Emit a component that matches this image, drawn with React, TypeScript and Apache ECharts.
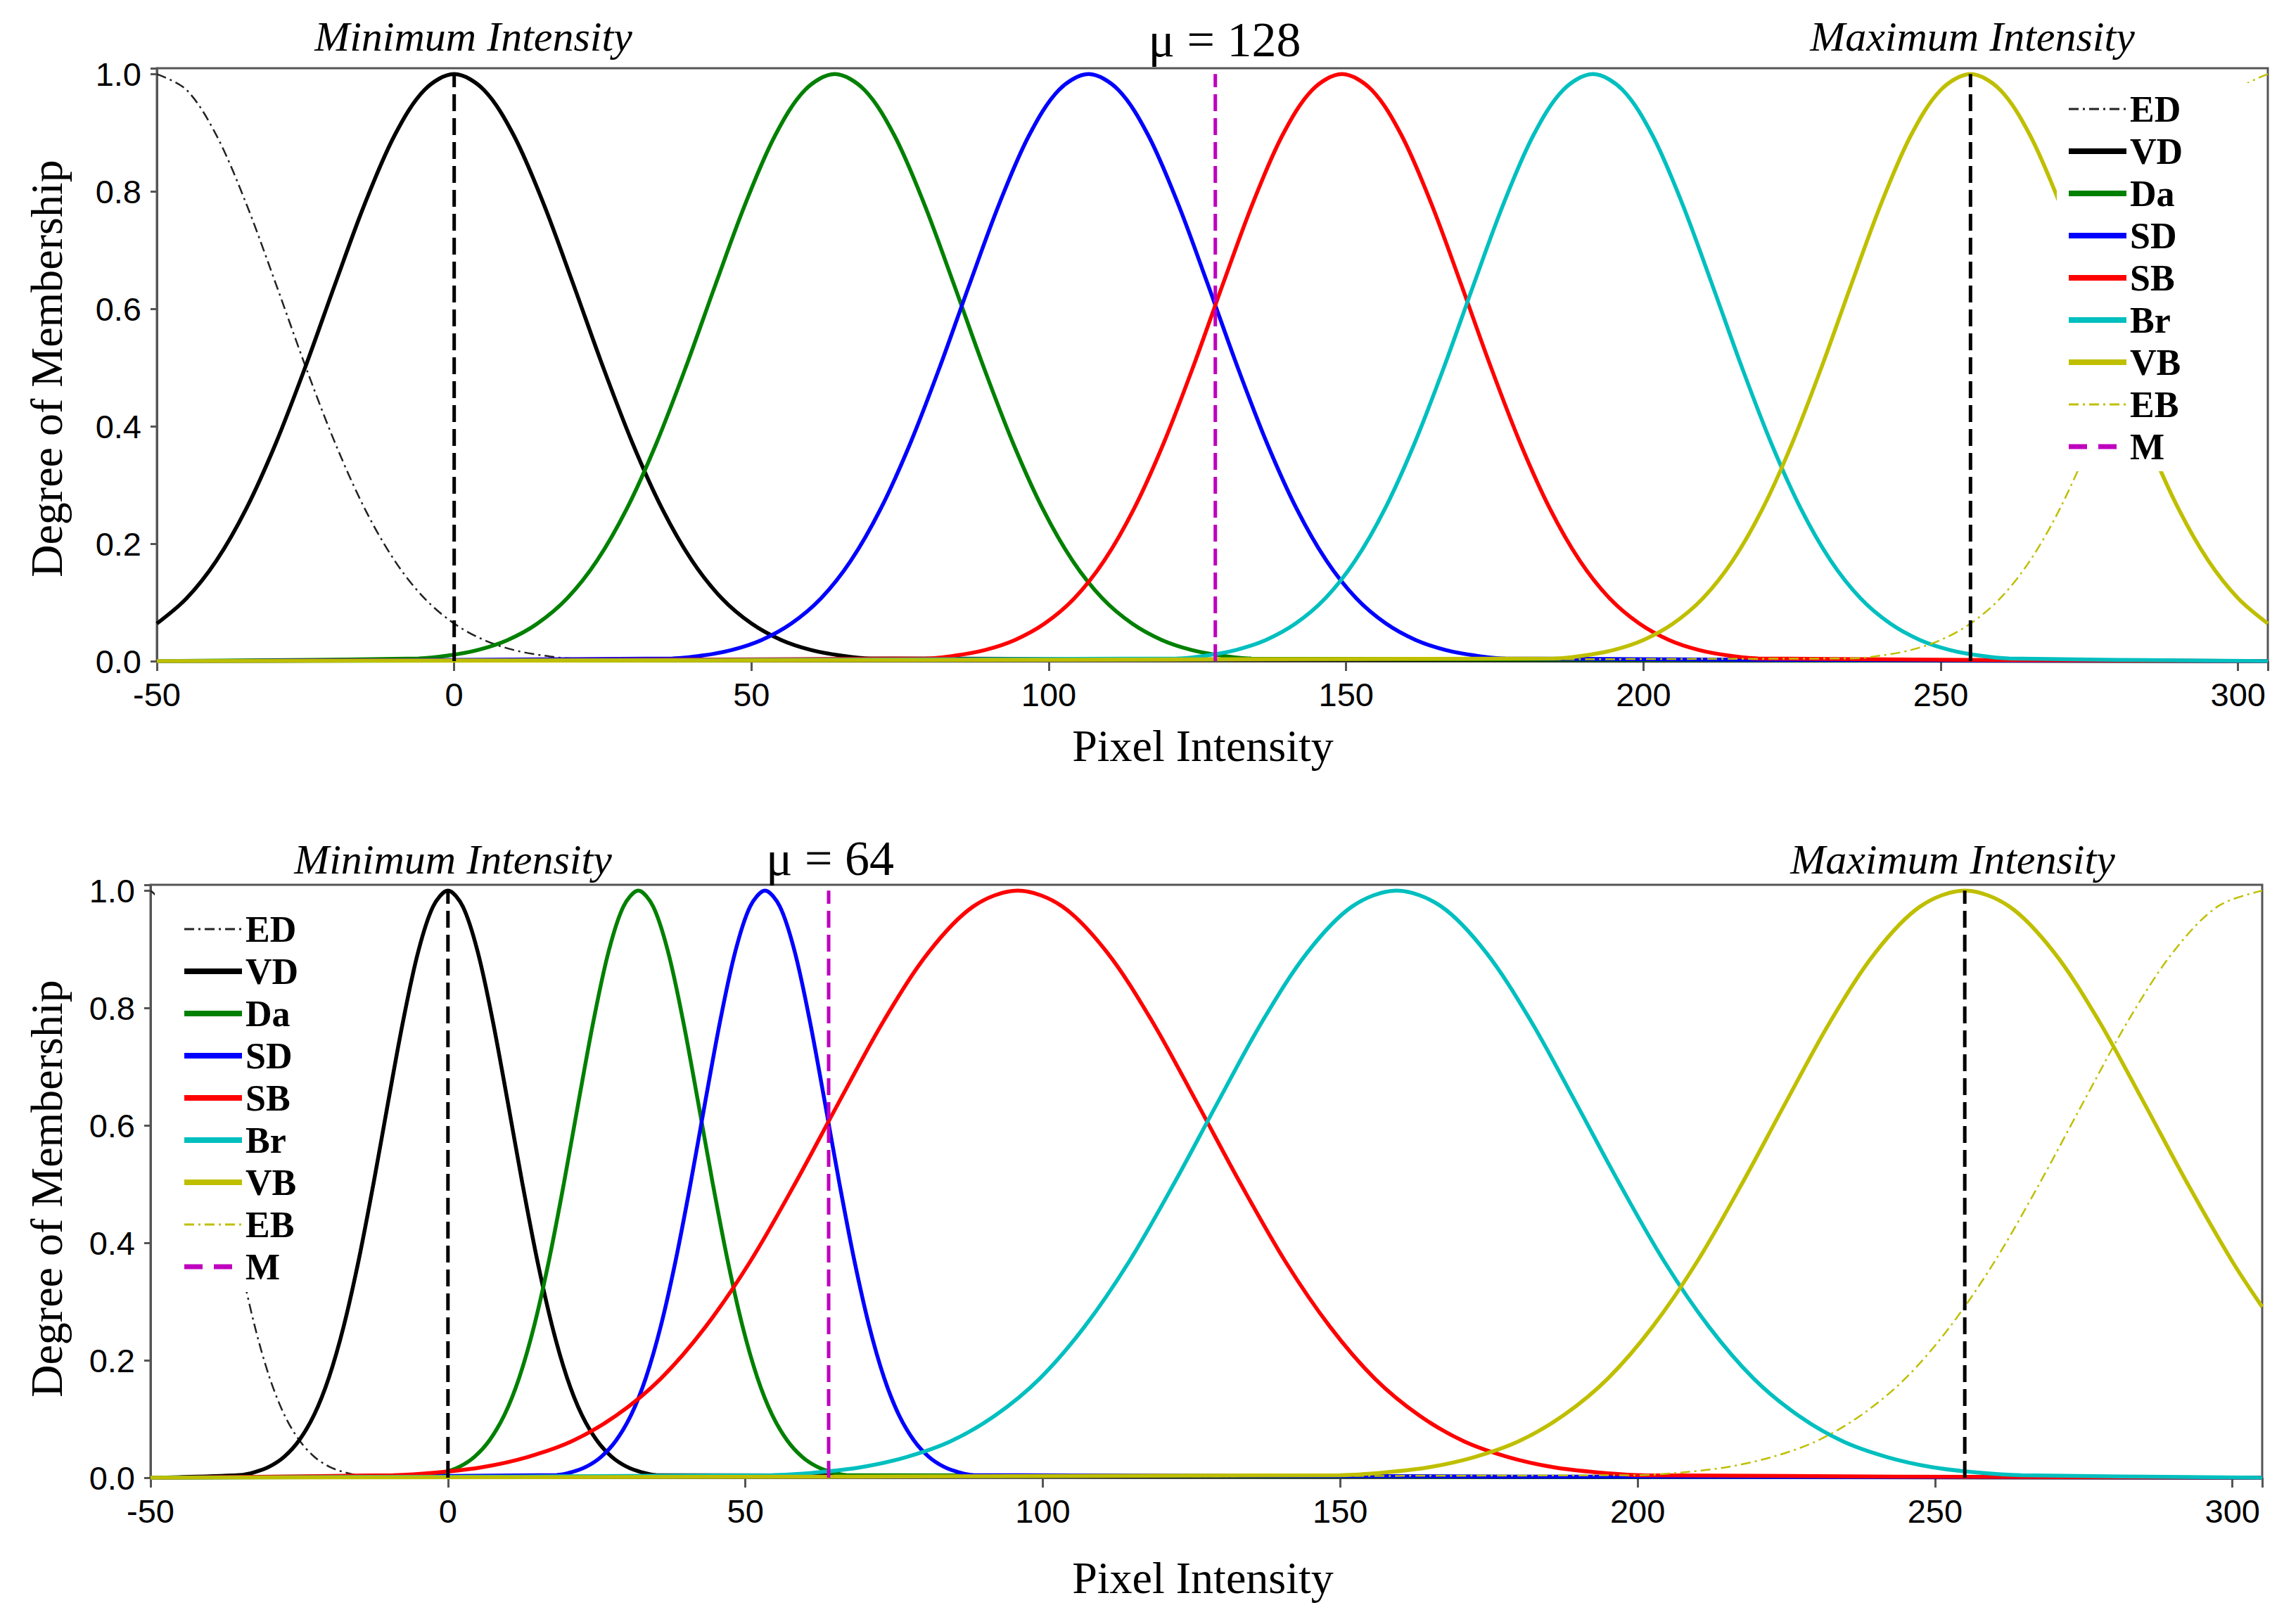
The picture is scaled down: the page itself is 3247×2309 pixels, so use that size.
import React, { useEffect, useRef } from "react";
import * as echarts from "echarts";

// ---------------- DATA ----------------
const legendNames = ["ED", "VD", "Da", "SD", "SB", "Br", "VB", "EB", "M"];

// Top panel (mu = 128)
const meanTop = 128;
const ed128 = [[-50,1],[-45,0.973],[-40,0.896],[-35,0.78],[-30,0.643],[-25,0.502],[-20,0.371],[-15,0.259],[-10,0.171],[-5,0.107],[0,0.064],[5,0.036],[10,0.019],[15,0.0095],[20,0.0045],[305,0]];
const vd128 = [[-50,0.064],[-45,0.107],[-40,0.171],[-35,0.259],[-30,0.371],[-25,0.502],[-20,0.643],[-15,0.78],[-10,0.896],[-5,0.973],[0,1],[5,0.973],[10,0.896],[15,0.78],[20,0.643],[25,0.502],[30,0.371],[35,0.259],[40,0.171],[45,0.107],[50,0.064],[55,0.036],[60,0.019],[65,0.0095],[70,0.0045],[305,0]];
const da128 = [[-50,0],[-6,0.0045],[-1,0.0095],[4,0.019],[9,0.036],[14,0.064],[19,0.107],[24,0.171],[29,0.259],[34,0.371],[39,0.502],[44,0.643],[49,0.78],[54,0.896],[59,0.973],[64,1],[69,0.973],[74,0.896],[79,0.78],[84,0.643],[89,0.502],[94,0.371],[99,0.259],[104,0.171],[109,0.107],[114,0.064],[119,0.036],[124,0.019],[129,0.0095],[134,0.0045],[305,0]];
const sd128 = [[-50,0],[36.7,0.0045],[41.7,0.0095],[46.7,0.019],[51.7,0.036],[56.7,0.064],[61.7,0.107],[66.7,0.171],[71.7,0.259],[76.7,0.371],[81.7,0.502],[86.7,0.643],[91.7,0.78],[96.7,0.896],[101.7,0.973],[106.7,1],[111.7,0.973],[116.7,0.896],[121.7,0.78],[126.7,0.643],[131.7,0.502],[136.7,0.371],[141.7,0.259],[146.7,0.171],[151.7,0.107],[156.7,0.064],[161.7,0.036],[166.7,0.019],[171.7,0.0095],[176.7,0.0045],[305,0]];
const sb128 = [[-50,0],[79.3,0.0045],[84.3,0.0095],[89.3,0.019],[94.3,0.036],[99.3,0.064],[104.3,0.107],[109.3,0.171],[114.3,0.259],[119.3,0.371],[124.3,0.502],[129.3,0.643],[134.3,0.78],[139.3,0.896],[144.3,0.973],[149.3,1],[154.3,0.973],[159.3,0.896],[164.3,0.78],[169.3,0.643],[174.3,0.502],[179.3,0.371],[184.3,0.259],[189.3,0.171],[194.3,0.107],[199.3,0.064],[204.3,0.036],[209.3,0.019],[214.3,0.0095],[219.3,0.0045],[305,0]];
const br128 = [[-50,0],[121.5,0.0045],[126.5,0.0095],[131.5,0.019],[136.5,0.036],[141.5,0.064],[146.5,0.107],[151.5,0.171],[156.5,0.259],[161.5,0.371],[166.5,0.502],[171.5,0.643],[176.5,0.78],[181.5,0.896],[186.5,0.973],[191.5,1],[196.5,0.973],[201.5,0.896],[206.5,0.78],[211.5,0.643],[216.5,0.502],[221.5,0.371],[226.5,0.259],[231.5,0.171],[236.5,0.107],[241.5,0.064],[246.5,0.036],[251.5,0.019],[256.5,0.0095],[261.5,0.0045],[305,0]];
const vb128 = [[-50,0],[185,0.0045],[190,0.0095],[195,0.019],[200,0.036],[205,0.064],[210,0.107],[215,0.171],[220,0.259],[225,0.371],[230,0.502],[235,0.643],[240,0.78],[245,0.896],[250,0.973],[255,1],[260,0.973],[265,0.896],[270,0.78],[275,0.643],[280,0.502],[285,0.371],[290,0.259],[295,0.171],[300,0.107],[305,0.064]];
const eb128 = [[-50,0],[235,0.0045],[240,0.0095],[245,0.019],[250,0.036],[255,0.064],[260,0.107],[265,0.171],[270,0.259],[275,0.371],[280,0.502],[285,0.643],[290,0.78],[295,0.896],[300,0.973],[305,1]];

// Bottom panel (mu = 64)
const meanBottom = 64;
const ed64 = [[-50,1],[-47.5,0.973],[-45,0.896],[-42.5,0.78],[-40,0.643],[-37.5,0.502],[-35,0.371],[-32.5,0.259],[-30,0.171],[-27.5,0.107],[-25,0.064],[-22.5,0.036],[-20,0.019],[-17.5,0.0095],[-15,0.0045],[305,0]];
const vd64 = [[-50,0],[-35,0.0045],[-32.5,0.0095],[-30,0.019],[-27.5,0.036],[-25,0.064],[-22.5,0.107],[-20,0.171],[-17.5,0.259],[-15,0.371],[-12.5,0.502],[-10,0.643],[-7.5,0.78],[-5,0.896],[-2.5,0.973],[0,1],[2.5,0.973],[5,0.896],[7.5,0.78],[10,0.643],[12.5,0.502],[15,0.371],[17.5,0.259],[20,0.171],[22.5,0.107],[25,0.064],[27.5,0.036],[30,0.019],[32.5,0.0095],[35,0.0045],[305,0]];
const da64 = [[-50,0],[-3,0.0045],[-0.5,0.0095],[2,0.019],[4.5,0.036],[7,0.064],[9.5,0.107],[12,0.171],[14.5,0.259],[17,0.371],[19.5,0.502],[22,0.643],[24.5,0.78],[27,0.896],[29.5,0.973],[32,1],[34.5,0.973],[37,0.896],[39.5,0.78],[42,0.643],[44.5,0.502],[47,0.371],[49.5,0.259],[52,0.171],[54.5,0.107],[57,0.064],[59.5,0.036],[62,0.019],[64.5,0.0095],[67,0.0045],[305,0]];
const sd64 = [[-50,0],[18.3,0.0045],[20.8,0.0095],[23.3,0.019],[25.8,0.036],[28.3,0.064],[30.8,0.107],[33.3,0.171],[35.8,0.259],[38.3,0.371],[40.8,0.502],[43.3,0.643],[45.8,0.78],[48.3,0.896],[50.8,0.973],[53.3,1],[55.8,0.973],[58.3,0.896],[60.8,0.78],[63.3,0.643],[65.8,0.502],[68.3,0.371],[70.8,0.259],[73.3,0.171],[75.8,0.107],[78.3,0.064],[80.8,0.036],[83.3,0.019],[85.8,0.0095],[88.3,0.0045],[305,0]];
const sb64 = [[-50,0],[-9.2,0.0043],[-1.7,0.009],[5.8,0.018],[13.3,0.035],[20.8,0.062],[28.3,0.106],[35.8,0.169],[43.3,0.257],[50.8,0.368],[58.3,0.5],[65.8,0.641],[73.3,0.779],[80.8,0.895],[88.3,0.973],[95.8,1],[103.3,0.973],[110.8,0.895],[118.3,0.779],[125.8,0.641],[133.3,0.5],[140.8,0.368],[148.3,0.257],[155.8,0.169],[163.3,0.106],[170.8,0.062],[178.3,0.035],[185.8,0.018],[193.3,0.009],[200.8,0.0043],[305,0]];
const br64 = [[-50,0],[54.5,0.0043],[62,0.009],[69.5,0.018],[77,0.035],[84.5,0.062],[92,0.106],[99.5,0.169],[107,0.257],[114.5,0.368],[122,0.5],[129.5,0.641],[137,0.779],[144.5,0.895],[152,0.973],[159.5,1],[167,0.973],[174.5,0.895],[182,0.779],[189.5,0.641],[197,0.5],[204.5,0.368],[212,0.257],[219.5,0.169],[227,0.106],[234.5,0.062],[242,0.035],[249.5,0.018],[257,0.009],[264.5,0.0043],[305,0]];
const vb64 = [[-50,0],[150,0.0043],[157.5,0.009],[165,0.018],[172.5,0.035],[180,0.062],[187.5,0.106],[195,0.169],[202.5,0.257],[210,0.368],[217.5,0.5],[225,0.641],[232.5,0.779],[240,0.895],[247.5,0.973],[255,1],[262.5,0.973],[270,0.895],[277.5,0.779],[285,0.641],[292.5,0.5],[300,0.368],[305,0.291]];
const eb64 = [[-50,0],[200,0.0043],[207.5,0.009],[215,0.018],[222.5,0.035],[230,0.062],[237.5,0.106],[245,0.169],[252.5,0.257],[260,0.368],[267.5,0.5],[275,0.641],[282.5,0.779],[290,0.895],[297.5,0.973],[305,1]];

const minIntensity = 0;
const maxIntensity = 255;

// ---------------- STYLE ----------------
const SERIF = "Liberation Serif";
const SANS = "Liberation Sans";
const FRAME = "#555555";
const colors: Record<string, string> = {
  ED: "#222222", VD: "#000000", Da: "#008000", SD: "#0000ff",
  SB: "#ff0000", Br: "#00bfbf", VB: "#bfbf00", EB: "#bfbf00", M: "#bf00bf",
};
const DASHDOT = [14, 6, 3, 6];
const DASHED = [24, 10];

function curve(name: string, data: number[][], g: number) {
  const thin = name === "ED" || name === "EB";
  return {
    type: "line", name, data, xAxisIndex: g, yAxisIndex: g,
    showSymbol: false, symbol: "none", smooth: 0.33,
    color: colors[name],
    lineStyle: { color: colors[name], width: thin ? 2.5 : 5.5, type: thin ? DASHDOT : "solid" },
    z: 2,
  };
}

function vline(name: string, x: number, color: string, g: number) {
  return {
    type: "line", name, data: [[x, 0], [x, 1]], xAxisIndex: g, yAxisIndex: g,
    showSymbol: false, symbol: "none", color,
    lineStyle: { color, width: 5, type: DASHED },
    z: 3,
  };
}

function panelSeries(g: number, sets: number[][][], mean: number) {
  const s: any[] = legendNames.slice(0, 8).map((n, i) => curve(n, sets[i], g));
  s.push(vline("min-line", minIntensity, "#000000", g));
  s.push(vline("max-line", maxIntensity, "#000000", g));
  s.push(vline("M", mean, colors.M, g));
  return s;
}

const isMult = (v: number, step: number) => Math.abs(v / step - Math.round(v / step)) < 1e-6;

function xAxis(g: number) {
  return {
    gridIndex: g, type: "value", min: -50, max: 305, interval: 50,
    axisLine: { show: true, onZero: false, lineStyle: { color: FRAME, width: 3 } },
    axisTick: { show: true, length: 14, lineStyle: { color: FRAME, width: 3 } },
    axisLabel: {
      margin: 24, fontSize: 47, fontFamily: SANS, color: "#000",
      formatter: (v: number) => (isMult(v, 50) ? String(v) : ""),
    },
    splitLine: { show: false },
  };
}

function yAxis(g: number) {
  return {
    gridIndex: g, type: "value", min: 0, max: 1.01, interval: 0.2,
    axisLine: { show: true, onZero: false, lineStyle: { color: FRAME, width: 3 } },
    axisTick: { show: true, length: 9, lineStyle: { color: FRAME, width: 3 } },
    axisLabel: {
      margin: 22, fontSize: 47, fontFamily: SANS, color: "#000",
      formatter: (v: number) => (isMult(v, 0.2) ? v.toFixed(1) : ""),
    },
    splitLine: { show: false },
  };
}

function legendItems() {
  return legendNames.map((n) => {
    const thin = n === "ED" || n === "EB";
    const isM = n === "M";
    return {
      name: n,
      itemStyle: { opacity: 0 },
      lineStyle: {
        width: thin ? 3 : isM ? 7 : 8,
        type: thin ? DASHDOT : isM ? [26, 16] : "solid",
      },
    };
  });
}

function legend(left: number, top: number, padding: number[]) {
  return {
    show: true, orient: "vertical", left, top, padding,
    itemWidth: 82, itemHeight: 30, itemGap: 8,
    backgroundColor: "#ffffff", selectedMode: false,
    itemStyle: { opacity: 0 },
    data: legendItems(),
    textStyle: { fontFamily: SERIF, fontWeight: "bold", fontSize: 52, lineHeight: 52, color: "#000" },
  };
}

function txt(text: string, x: number, y: number, size: number, opts: any = {}) {
  return {
    type: "text", x, y, rotation: opts.rotation || 0, z: 10,
    style: {
      text, fill: "#000", fontFamily: SERIF, fontSize: size,
      fontStyle: opts.italic ? "italic" : "normal",
      align: "center", verticalAlign: "middle",
    },
  };
}

export default function App() {
  const ref = useRef<HTMLDivElement>(null);
  useEffect(() => {
    if (!ref.current) return;
    const chart = echarts.init(ref.current, null, { renderer: "svg" });
    const option: any = {
      animation: false,
      backgroundColor: "#ffffff",
      grid: [
        { left: 223, top: 97, width: 3001, height: 843, show: true, borderColor: FRAME, borderWidth: 3, backgroundColor: "transparent" },
        { left: 214, top: 1258, width: 3002, height: 843, show: true, borderColor: FRAME, borderWidth: 3, backgroundColor: "transparent" },
      ],
      xAxis: [xAxis(0), xAxis(1)],
      yAxis: [yAxis(0), yAxis(1)],
      legend: [
        legend(2924, 118, [11, 110, 9, 13]),
        legend(220, 1266, [29, 50, 10, 38]),
      ],
      series: [
        ...panelSeries(0, [ed128, vd128, da128, sd128, sb128, br128, vb128, eb128], meanTop),
        ...panelSeries(1, [ed64, vd64, da64, sd64, sb64, br64, vb64, eb64], meanBottom),
      ],
      graphic: [
        txt("Minimum Intensity", 673, 52, 60, { italic: true }),
        txt("\u03bc = " + meanTop, 1741, 56, 70),
        txt("Maximum Intensity", 2804, 52, 60, { italic: true }),
        txt("Degree of Membership", 66, 524, 64, { rotation: Math.PI / 2 }),
        txt("Pixel Intensity", 1710, 1060, 64),
        txt("Minimum Intensity", 644, 1222, 60, { italic: true }),
        txt("\u03bc = " + meanBottom, 1180, 1220, 70),
        txt("Maximum Intensity", 2776, 1222, 60, { italic: true }),
        txt("Degree of Membership", 66, 1690, 64, { rotation: Math.PI / 2 }),
        txt("Pixel Intensity", 1710, 2243, 64),
      ],
    };
    chart.setOption(option);
    return () => chart.dispose();
  }, []);
  return (
    <div
      ref={ref}
      style={{ position: "absolute", left: 0, top: 0, width: "3247px", height: "2309px" }}
    />
  );
}
